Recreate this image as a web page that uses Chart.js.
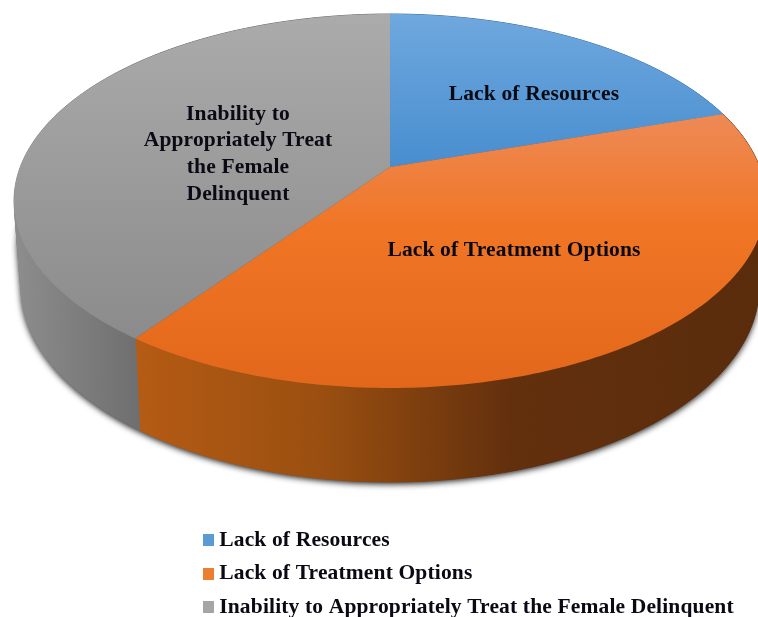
<!DOCTYPE html>
<html>
<head>
<meta charset="utf-8">
<style>html,body{margin:0;padding:0;background:#fff}canvas{display:block}</style>
<script src="https://cdn.jsdelivr.net/npm/chart.js@4"></script>
</head>
<body>
<canvas id="c" width="758" height="617"></canvas>
<script>
const categories = ["Lack of Resources", "Lack of Treatment Options", "Inability to Appropriately Treat the Female Delinquent"];
const shares = [20, 40, 40];
const sliceColors = ["#5b9bd5", "#ed7d31", "#a5a5a5"];
const sliceLabelLines = [["Lack of Resources"], ["Lack of Treatment Options"], ["Inability to", "Appropriately Treat", "the Female", "Delinquent"]];

const FONT = '"Liberation Serif", "Times New Roman", serif';
const K = 0.1818;
const TOP = {x0: 390, y0: 167, a: 369.7, b: 180.8};
const BOT = {x0: 390, y0: 251, a: 363, b: 189};
const LABEL_POS = [[534, 94, 27], [514, 250, 27], [238, 114, 26.7]];
const BANDS = 14;

function lerpGeom(t) {
  return {
    x0: TOP.x0 + (BOT.x0 - TOP.x0) * t,
    y0: TOP.y0 + (BOT.y0 - TOP.y0) * t,
    a: TOP.a + (BOT.a - TOP.a) * t,
    b: TOP.b + (BOT.b - TOP.b) * t
  };
}
function project(g, theta) {
  const u = Math.sin(theta), v = -Math.cos(theta), w = 1 - K * v;
  return [g.x0 + g.a * u / w, g.y0 + g.b * v / w];
}
function rim(ctx, g, from, to, first) {
  const n = 160;
  for (let i = 0; i <= n; i++) {
    const p = project(g, from + (to - from) * i / n);
    if (i === 0 && first) ctx.moveTo(p[0], p[1]); else ctx.lineTo(p[0], p[1]);
  }
}
function vGrad(ctx, stops, y0, y1) {
  const g = ctx.createLinearGradient(0, y0, 0, y1);
  stops.forEach(s => g.addColorStop(s[0], s[1]));
  return g;
}
function hGrad(ctx, stops, x0, x1) {
  const g = ctx.createLinearGradient(x0, 0, x1, 0);
  stops.forEach(s => g.addColorStop(s[0], s[1]));
  return g;
}

const pie3d = {
  id: 'pie3d',
  afterLayout(chart) {
    const l = chart.legend;
    l.left = 195.5; l.right = 758;
    l.top = 517.5; l.bottom = 760;
  },
  beforeDraw(chart) {
    chart.ctx.letterSpacing = '0.15px';
  },
  beforeDatasetsDraw(chart) {
    const ctx = chart.ctx;
    const arcs = chart.getDatasetMeta(0).data;
    const faces = [
      vGrad(ctx, [[0, '#6fa8de'], [1, '#478dcf']], 14, 170),
      vGrad(ctx, [[0, '#ee8a56'], [0.4, '#f07626'], [1, '#e3671a']], 115, 388),
      vGrad(ctx, [[0, '#ababab'], [1, '#8b8b8b']], 14, 340)
    ];
    const walls = [
      '#3a6a9a',
      hGrad(ctx, [[0, '#b55b14'], [0.3, '#9a4f10'], [0.6, '#63300d'], [1, '#5a2c0c']], 135, 758),
      hGrad(ctx, [[0, '#8c8c8c'], [1, '#6e6e6e']], 20, 142)
    ];
    ctx.save();
    // soft shadow below the extruded disc: only the lower part of the sweep casts it
    ctx.save();
    ctx.shadowColor = 'rgba(0,0,0,0.9)';
    ctx.shadowBlur = 6;
    ctx.shadowOffsetY = 2;
    ctx.fillStyle = '#555';
    ctx.beginPath();
    for (let b = Math.ceil(BANDS / 2); b <= BANDS; b++) {
      rim(ctx, lerpGeom(b / BANDS), 0, Math.PI * 2, true);
      ctx.closePath();
    }
    ctx.fill();
    ctx.restore();
    // side walls: each band is filled on its own so opposite windings cannot cancel;
    // a thin same-colour stroke closes the antialiasing seams between bands
    arcs.forEach((arc, i) => {
      const s = arc.startAngle + Math.PI / 2, e = arc.endAngle + Math.PI / 2;
      ctx.fillStyle = walls[i];
      ctx.strokeStyle = walls[i];
      ctx.lineWidth = 1;
      ctx.lineJoin = 'round';
      for (let b = 0; b < BANDS; b++) {
        ctx.beginPath();
        rim(ctx, lerpGeom(b / BANDS), s, e, true);
        rim(ctx, lerpGeom((b + 1) / BANDS), e, s, false);
        ctx.closePath();
        ctx.fill();
        ctx.stroke();
      }
    });
    // top faces
    arcs.forEach((arc, i) => {
      const s = arc.startAngle + Math.PI / 2, e = arc.endAngle + Math.PI / 2;
      ctx.beginPath();
      ctx.moveTo(TOP.x0, TOP.y0);
      rim(ctx, TOP, s, e, false);
      ctx.closePath();
      ctx.fillStyle = faces[i];
      ctx.fill();
    });
    // slice labels
    ctx.fillStyle = '#0a0a14';
    ctx.font = 'bold 21.5px ' + FONT;
    ctx.textAlign = 'center';
    ctx.textBaseline = 'middle';
    sliceLabelLines.forEach((lines, i) => {
      lines.forEach((t, j) => ctx.fillText(t, LABEL_POS[i][0], LABEL_POS[i][1] + j * LABEL_POS[i][2]));
    });
    ctx.restore();
    return false;
  }
};

function swatch(color) {
  const c = document.createElement('canvas');
  c.width = 11; c.height = 12;
  const x = c.getContext('2d');
  x.fillStyle = color;
  x.fillRect(0, 0, 11, 12);
  return c;
}
const swatches = sliceColors.map(swatch);

new Chart(document.getElementById('c'), {
  type: 'pie',
  data: {
    labels: categories,
    datasets: [{data: shares, backgroundColor: sliceColors, borderWidth: 0}]
  },
  options: {
    responsive: false,
    animation: false,
    events: [],
    plugins: {
      tooltip: {enabled: false},
      legend: {
        position: 'left',
        align: 'start',
        labels: {
          color: '#0a0a14',
          font: {family: FONT, weight: 'bold', size: 21.5},
          padding: 12,
          boxHeight: 11,
          boxWidth: 11,
          usePointStyle: true,
          pointStyleWidth: 1,
          generateLabels(chart) {
            return chart.data.labels.map((t, i) => ({
              text: t, fillStyle: sliceColors[i], strokeStyle: sliceColors[i], lineWidth: 0,
              pointStyle: swatches[i], hidden: false, index: i, fontColor: '#0a0a14'
            }));
          }
        }
      }
    }
  },
  plugins: [pie3d]
});
</script>
</body>
</html>
